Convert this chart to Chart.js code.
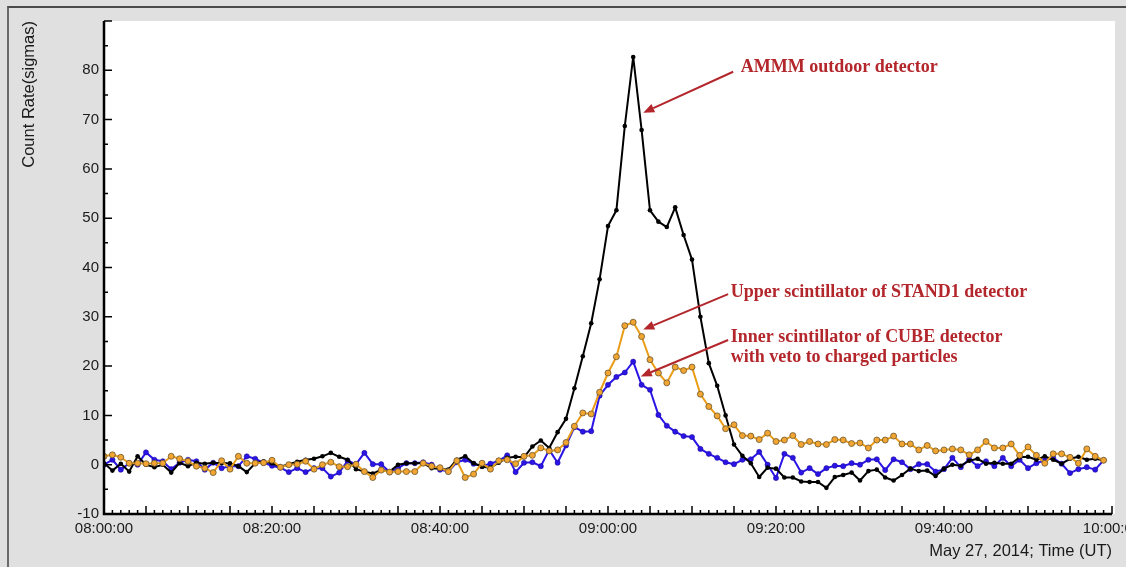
<!DOCTYPE html>
<html>
<head>
<meta charset="utf-8">
<script src="https://cdn.jsdelivr.net/npm/chart.js@4/dist/chart.umd.min.js"></script>
<style>
  html, body { margin: 0; padding: 0; background: #e0e0e0; }
  #wrap { position: relative; width: 1126px; height: 567px; overflow: hidden; }
  #frame { position: absolute; left: 7px; top: 6px; right: 0; bottom: 0; border-top: 2px solid #4a4a4a; border-left: 2px solid #6a6a6a; }
  canvas { position: absolute; left: 0; top: 0; }
</style>
</head>
<body>
<div id="wrap">
  <div id="frame"></div>
  <canvas id="chart" width="1126" height="567"></canvas>
</div>
<script>

// one value per minute, 08:00 .. 09:59 (UT), in sigmas
const ammm = [
   0.3, -1.2,  0.2, -1.4,  1.7,  0.0, -0.5,  0.0, -1.6,  0.4,
  -0.3,  0.4,  0.2,  0.4,  0.3,  0.3, -0.3, -1.5,  0.3,  0.7,
   0.3, -0.4,  0.1,  0.6,  1.0,  1.2,  1.7,  2.4,  1.6,  1.0,
  -0.9, -1.4, -1.8, -1.0, -1.4,  0.0,  0.3,  0.3,  0.3, -0.7,
  -0.8, -1.0,  1.0,  1.7,  0.3, -0.4, -0.6,  0.4,  1.4,  1.6,
   1.5,  3.7,  4.9,  3.4,  6.6,  9.3, 15.5, 22.0, 28.7, 37.6,
  48.4, 51.6, 68.7, 82.7, 67.9, 51.6, 49.3, 48.2, 52.2, 46.6,
  41.6, 30.0, 20.6, 16.0, 10.0,  4.1,  1.8,  0.3, -2.5, -0.6,
  -0.8, -2.6, -2.6, -3.4, -3.5, -3.5, -4.7, -2.5, -2.1, -1.6,
  -3.2, -1.3, -1.0, -2.6, -3.2, -2.1, -0.8, -1.3, -1.2, -2.3,
  -0.8,  0.0, -0.2,  0.8,  1.2,  0.2,  0.4,  0.2,  0.2,  1.5,
   1.6,  1.0,  1.7,  1.0,  0.2,  1.2,  1.6,  1.0,  1.2,  0.9
];

const stand1Upper = [
   1.7,  2.0,  1.5,  0.3,  0.3,  0.2,  0.3,  0.3,  1.7,  1.2,
   0.7, -0.3, -0.7, -1.6,  0.8, -0.9,  1.7,  0.3,  0.3,  0.4,
   0.9, -0.5,  0.0,  0.1,  0.7, -0.9,  0.0,  0.5, -0.4, -0.4,
   0.1, -1.4, -2.6, -1.1, -1.5, -1.4, -1.4, -1.4,  0.3, -0.3,
  -0.6, -1.4,  0.8, -2.6, -1.9,  0.3, -0.9,  0.8,  1.0,  0.2,
   1.7,  1.9,  3.4,  2.8,  3.0,  4.5,  7.8, 10.5, 10.3, 14.7,
  18.6, 21.9, 28.2, 28.9, 26.0, 21.3, 18.6, 16.6, 19.8, 19.1,
  19.8, 14.3, 11.8,  9.9,  7.3,  8.1,  5.9,  5.8,  5.1,  6.4,
   4.7,  5.0,  5.9,  4.1,  4.7,  4.2,  4.1,  5.1,  5.0,  4.3,
   4.4,  3.4,  5.0,  5.0,  5.8,  4.2,  4.2,  3.0,  3.9,  2.8,
   3.0,  3.2,  3.0,  2.0,  3.0,  4.7,  3.4,  3.4,  4.2,  1.9,
   3.6,  1.9,  0.3,  2.2,  2.2,  1.5,  0.3,  3.2,  1.7,  0.9
];

const cubeInner = [
   0.0,  1.0, -1.0,  0.3,  0.0,  2.5,  1.0,  0.7, -0.9,  0.4,
   1.0,  0.7, -1.0,  0.4, -0.7, -0.3, -0.3,  1.7,  1.2,  0.4,
  -0.2, -0.6, -1.5, -0.7, -1.5, -0.7, -0.7, -2.4, -1.6,  0.8,
   0.1,  2.4,  0.1,  0.1, -1.5, -0.7,  0.3,  0.3,  0.5,  0.0,
  -1.0, -1.4,  0.5,  1.0,  0.2, -0.3,  0.2,  0.8,  1.9, -1.5,
   0.4,  0.5, -0.3,  3.0,  0.4,  3.9,  7.6,  6.7,  6.8, 14.0,
  16.2, 17.8, 18.7, 20.9, 16.2, 15.2, 10.1,  7.9,  6.7,  5.8,
   5.6,  3.2,  2.2,  1.4,  0.5,  0.1,  1.0,  1.1,  2.6,  0.0,
  -2.7,  2.2,  1.4, -1.6, -0.7, -1.9, -0.7, -0.2, -0.3,  0.3,
   0.0,  1.0,  1.1, -1.1,  1.1,  0.5, -0.9,  0.1,  0.1, -1.4,
  -0.9,  1.4, -0.5,  1.1, -0.3,  0.7, -0.3,  1.4, -0.3,  1.0,
  -0.7,  0.3,  0.9,  1.4,  0.2, -1.7, -0.9, -0.5, -1.0,  0.9
];

// x tick labels, every 20 minutes from 08:00
const timeLabels = ['08:00:00', '08:20:00', '08:40:00', '09:00:00', '09:20:00', '09:40:00', '10:00:00'];

// annotations, placed in data units (minutes, sigmas)
const notes = [
  { lines: ['AMMM outdoor detector'], text: [75.8, 80.6], from: [74.9, 79.7], tip: [64.2, 71.4] },
  { lines: ['Upper scintillator of STAND1 detector'], text: [74.6, 34.9], from: [74.3, 34.6], tip: [64.2, 27.4] },
  { lines: ['Inner scintillator of CUBE detector', 'with veto to charged particles'], text: [74.6, 25.9], from: [74.3, 25.3], tip: [63.9, 17.9] }
];

function toPoints(arr){
    return arr.map((v, i) => ({ x: i, y: v }));
}

// white plot area, inward tick marks and the axis lines
const axisMarks = {
    id: 'axisMarks',
    beforeDraw(chart){
        const { ctx, chartArea: a } = chart;
        ctx.save();
        ctx.fillStyle = '#ffffff';
        ctx.fillRect(a.left, a.top, a.right - a.left + 3, a.bottom - a.top);
        ctx.restore();
    },
    afterDraw(chart){
        const { ctx, chartArea: a, scales } = chart;
        const x = scales.x, y = scales.y;
        ctx.save();
        ctx.strokeStyle = '#000';
        ctx.lineWidth = 1.5;
        ctx.beginPath();
        for (let m = 0; m <= 120; m++) {
            const px = x.getPixelForValue(m);
            const len = m % 5 === 0 ? 8 : 4;
            ctx.moveTo(px, a.bottom);
            ctx.lineTo(px, a.bottom - len);
        }
        for (let v = -10; v <= 90; v += 5) {
            const py = y.getPixelForValue(v);
            const len = v % 10 === 0 ? 8 : 4;
            ctx.moveTo(a.left, py);
            ctx.lineTo(a.left + len, py);
        }
        ctx.stroke();

        ctx.lineWidth = 2.5;
        ctx.beginPath();
        ctx.moveTo(a.left, a.top);
        ctx.lineTo(a.left, a.bottom);
        ctx.lineTo(a.right, a.bottom);
        ctx.stroke();
        ctx.restore();
    }
};

// red labels with arrows
const arrowNotes = {
    id: 'arrowNotes',
    afterDraw(chart){
        const { ctx, scales } = chart;
        const px = p => [scales.x.getPixelForValue(p[0]), scales.y.getPixelForValue(p[1])];
        ctx.save();
        ctx.strokeStyle = '#b3262b';
        ctx.fillStyle = '#b3262b';
        ctx.lineWidth = 2;
        notes.forEach(n => {
            const [x1, y1] = px(n.from);
            const [x2, y2] = px(n.tip);
            const ang = Math.atan2(y2 - y1, x2 - x1);
            const head = 11, half = 4.5;
            const bx = x2 - head * Math.cos(ang), by = y2 - head * Math.sin(ang);
            ctx.beginPath();
            ctx.moveTo(x1, y1);
            ctx.lineTo(bx, by);
            ctx.stroke();
            ctx.beginPath();
            ctx.moveTo(x2, y2);
            ctx.lineTo(bx + half * Math.sin(ang), by - half * Math.cos(ang));
            ctx.lineTo(bx - half * Math.sin(ang), by + half * Math.cos(ang));
            ctx.closePath();
            ctx.fill();

            const [tx, ty] = px(n.text);
            ctx.font = 'bold 18px "Liberation Serif", "Times New Roman", serif';
            ctx.textAlign = 'left';
            ctx.textBaseline = 'middle';
            n.lines.forEach((s, i) => ctx.fillText(s, tx, ty + i * 20));
        });
        ctx.restore();
    }
};

const tickFont = { family: '"Liberation Sans", Arial, sans-serif', size: 15 };
const titleFont = { family: '"Liberation Sans", Arial, sans-serif', size: 16.5 };

new Chart(document.getElementById('chart'), {
    type: 'line',
    data: {
        datasets: [
            {
                label: 'Upper scintillator of STAND1 detector',
                data: toPoints(stand1Upper),
                borderColor: '#e99d18',
                borderWidth: 2,
                borderJoinStyle: 'round',
                pointRadius: 3,
                pointBackgroundColor: '#f2a531',
                pointBorderColor: '#6a5530',
                pointBorderWidth: 0.8,
                tension: 0
            },
            {
                label: 'AMMM outdoor detector',
                data: toPoints(ammm),
                borderColor: '#000000',
                borderWidth: 2,
                borderJoinStyle: 'round',
                pointRadius: 2.3,
                pointBackgroundColor: '#000000',
                pointBorderWidth: 0,
                tension: 0
            },
            {
                label: 'Inner scintillator of CUBE detector',
                data: toPoints(cubeInner),
                borderColor: '#2a14e6',
                borderWidth: 2,
                borderJoinStyle: 'round',
                pointRadius: 2.6,
                pointBackgroundColor: '#2a14e6',
                pointBorderColor: '#1a0a90',
                pointBorderWidth: 0.5,
                tension: 0
            }
        ]
    },
    options: {
        responsive: false,
        animation: false,
        layout: { padding: { left: 0, right: 14, top: 21, bottom: 0 } },
        plugins: {
            legend: { display: false },
            tooltip: { enabled: false }
        },
        scales: {
            x: {
                type: 'linear',
                min: 0,
                max: 120,
                grid: { display: false, drawTicks: false },
                border: { display: false },
                ticks: {
                    stepSize: 20,
                    autoSkip: false,
                    maxRotation: 0,
                    padding: 6,
                    color: '#1a1a1a',
                    font: tickFont,
                    callback: v => timeLabels[v / 20]
                },
                title: {
                    display: true,
                    text: 'May 27, 2014; Time (UT)',
                    align: 'end',
                    color: '#1a1a1a',
                    font: titleFont,
                    padding: { top: 0, bottom: 6 }
                },
                afterFit(s){
                    s.height = 53;
                    s.paddingLeft = 0;
                    s.paddingRight = 0;
                }
            },
            y: {
                min: -10,
                max: 90,
                grid: { display: false, drawTicks: false },
                border: { display: false },
                ticks: {
                    stepSize: 10,
                    padding: 5,
                    color: '#1a1a1a',
                    font: tickFont,
                    callback: v => v === 90 ? '' : v
                },
                title: {
                    display: true,
                    text: 'Count Rate(sigmas)',
                    align: 'end',
                    color: '#1a1a1a',
                    font: titleFont,
                    padding: { top: 20, bottom: 0 }
                },
                afterFit(s){
                    s.width = 104;
                    s.paddingTop = 0;
                    s.paddingBottom = 0;
                }
            }
        }
    },
    plugins: [axisMarks, arrowNotes]
});

</script>
</body>
</html>
